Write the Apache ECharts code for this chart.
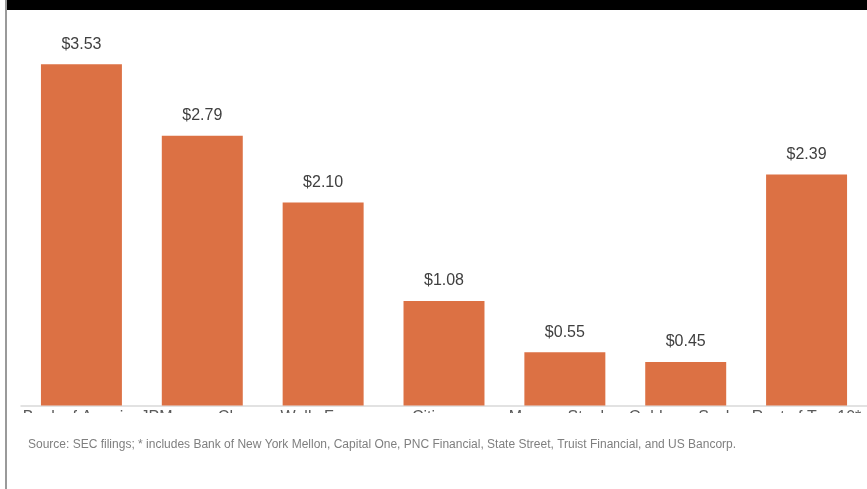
<!DOCTYPE html>
<html>
<head>
<meta charset="utf-8">
<script src="https://cdn.jsdelivr.net/npm/echarts@6/dist/echarts.min.js"></script>
<style>
html,body{margin:0;padding:0;background:#fff;}
#chart{width:867px;height:489px;}
</style>
</head>
<body>
<div id="chart"></div>
<script>
const categories = ["Bank of America", "JPMorgan Chase", "Wells Fargo", "Citigroup", "Morgan Stanley", "Goldman Sachs", "Rest of Top 10*"];
const values = [3.53, 2.79, 2.10, 1.08, 0.55, 0.45, 2.39];
const sourceNote = "Source: SEC filings; * includes Bank of New York Mellon, Capital One, PNC Financial, State Street, Truist Financial, and US Bancorp.";

const chart = echarts.init(document.getElementById('chart'), null, {renderer: 'canvas'});
chart.setOption({
  animation: false,
  backgroundColor: '#ffffff',
  textStyle: {fontFamily: '"Liberation Sans", Arial, sans-serif'},
  grid: {left: 21, right: 0, top: 18.7, bottom: 83.5, containLabel: false},
  xAxis: {
    type: 'category',
    data: categories,
    axisLine: {show: true, lineStyle: {color: '#d9d9d9', width: 1.5}},
    axisTick: {show: false},
    axisLabel: {color: '#595959', fontSize: 16, margin: 4, interval: 0}
  },
  yAxis: {
    type: 'value',
    min: 0, max: 4,
    show: false,
    splitLine: {show: false}
  },
  series: [{
    type: 'bar',
    data: values,
    barCategoryGap: '33%',
    itemStyle: {color: '#dc7144'},
    label: {
      show: true,
      position: 'top',
      distance: 12,
      color: '#404040',
      fontSize: 16,
      formatter: p => '$' + p.value.toFixed(2)
    }
  }],
  graphic: [
    {type: 'rect', z: 100, shape: {x: 7, y: 413, width: 860, height: 22}, style: {fill: '#ffffff'}},
    {type: 'rect', z: 100, shape: {x: 7, y: 0, width: 860, height: 10}, style: {fill: '#000000'}},
    {type: 'rect', z: 100, shape: {x: 5, y: 0, width: 2, height: 489}, style: {fill: '#9a9a9a'}},
    {type: 'text', z: 101, left: 28, top: 439, style: {text: sourceNote, fill: '#7f7f7f', fontSize: 12, fontFamily: '"Liberation Sans", Arial, sans-serif'}}
  ]
});
</script>
</body>
</html>
